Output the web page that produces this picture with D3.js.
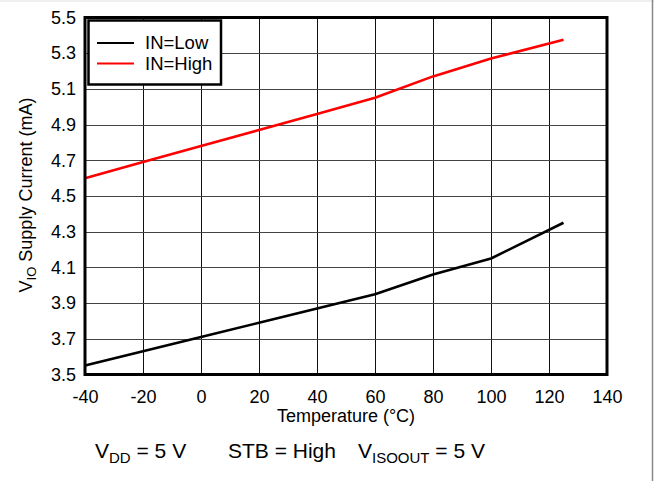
<!DOCTYPE html>
<html><head><meta charset="utf-8">
<script src="https://cdn.jsdelivr.net/npm/d3@7"></script>
<style>body{margin:0;background:#fff}svg{display:block}text{font-family:"Liberation Sans",Arial,sans-serif;fill:#000}</style>
</head><body>
<script>
const temps = [-40, -20, 0, 20, 40, 60, 80, 100, 125];
const inLow = [3.55, 3.63, 3.71, 3.79, 3.87, 3.95, 4.06, 4.15, 4.35];
const inHigh = [4.60, 4.69, 4.78, 4.87, 4.96, 5.05, 5.17, 5.27, 5.375];
const seriesNames = ["IN=Low", "IN=High"];
const seriesColors = ["#000000", "#ff0000"];
const xTicks = [-40, -20, 0, 20, 40, 60, 80, 100, 120, 140];
const yTicks = [3.5, 3.7, 3.9, 4.1, 4.3, 4.5, 4.7, 4.9, 5.1, 5.3, 5.5];

const W = 654, H = 481;
const FF = "Liberation Sans, Arial, sans-serif";
const svg = d3.select("body").append("svg").attr("width", W).attr("height", H);
svg.append("rect").attr("x",0).attr("y",0).attr("width",W).attr("height",2).attr("fill","#efefef");
svg.append("line").attr("x1",652.5).attr("x2",652.5).attr("y1",0).attr("y2",H).attr("stroke","#888").attr("stroke-width",1.5);

const L = 85, R = 607, T = 17.5, B = 374.5;
const x = d3.scaleLinear().domain([-40, 140]).range([L, R]);
const y = d3.scaleLinear().domain([3.5, 5.5]).range([B, T]);

const g = svg.append("g");
g.selectAll(".vg").data(xTicks).enter().append("line")
  .attr("x1", d => Math.round(x(d)) + 0.5).attr("x2", d => Math.round(x(d)) + 0.5)
  .attr("y1", T).attr("y2", B).attr("stroke", "#111").attr("stroke-width", 1);
g.selectAll(".hg").data(yTicks).enter().append("line")
  .attr("x1", L).attr("x2", R)
  .attr("y1", d => Math.round(y(d)) + 0.5).attr("y2", d => Math.round(y(d)) + 0.5)
  .attr("stroke", "#444").attr("stroke-width", 1);

const xAxis = d3.axisBottom(x).tickValues(xTicks).tickSize(0).tickPadding(16).tickFormat(d => String(d));
const xa = svg.append("g").attr("transform", `translate(0,${B})`).call(xAxis);
xa.select(".domain").remove();
xa.attr("font-size", 18).attr("font-family", FF);
xa.selectAll("text").attr("fill", "#000");

const yAxis = d3.axisLeft(y).tickValues(yTicks).tickSize(0).tickPadding(9).tickFormat(d => d.toFixed(1));
const ya = svg.append("g").attr("transform", `translate(${L},0)`).call(yAxis);
ya.select(".domain").remove();
ya.attr("font-size", 18).attr("font-family", FF);
ya.selectAll("text").attr("fill", "#000");

const line = d3.line().x((d, i) => x(temps[i])).y(d => y(d));
[inLow, inHigh].forEach((s, k) => {
  svg.append("path").datum(s).attr("d", line).attr("fill", "none")
    .attr("stroke", seriesColors[k]).attr("stroke-width", 2.6).attr("stroke-linejoin", "round");
});

svg.append("rect").attr("x", L).attr("y", T).attr("width", R - L).attr("height", B - T)
  .attr("fill", "none").attr("stroke", "#000").attr("stroke-width", 3);

const lg = svg.append("g");
lg.append("rect").attr("x", 88.5).attr("y", 20.5).attr("width", 132.5).attr("height", 64)
  .attr("fill", "#fff").attr("stroke", "#000").attr("stroke-width", 2.5);
seriesNames.forEach((n, k) => {
  const yy = 43 + k * 20.5;
  lg.append("line").attr("x1", 97).attr("x2", 134).attr("y1", yy).attr("y2", yy)
    .attr("stroke", seriesColors[k]).attr("stroke-width", 2.2);
  lg.append("text").attr("x", 145).attr("y", yy + 6.3).attr("font-size", 18.5).text(n);
});

svg.append("text").attr("x", 346).attr("y", 422).attr("text-anchor", "middle").attr("font-size", 18)
  .text("Temperature (°C)");
const yt = svg.append("text").attr("transform", "translate(32,195) rotate(-90)")
  .attr("text-anchor", "middle").attr("font-size", 18);
yt.append("tspan").text("V");
yt.append("tspan").attr("font-size", 13).attr("dy", 4).text("IO");
yt.append("tspan").attr("dy", -4).text(" Supply Current (mA)");

const ct = svg.append("text").attr("x", 95).attr("y", 458).attr("font-size", 21);
ct.append("tspan").text("V");
ct.append("tspan").attr("font-size", 15).attr("dy", 5).text("DD");
ct.append("tspan").attr("dy", -5).text(" = 5 V");
ct.append("tspan").attr("x", 228).text("STB = High");
ct.append("tspan").attr("x", 358).text("V");
ct.append("tspan").attr("font-size", 15).attr("dy", 5).text("ISOOUT");
ct.append("tspan").attr("dy", -5).text(" = 5 V");
</script>
</body></html>
